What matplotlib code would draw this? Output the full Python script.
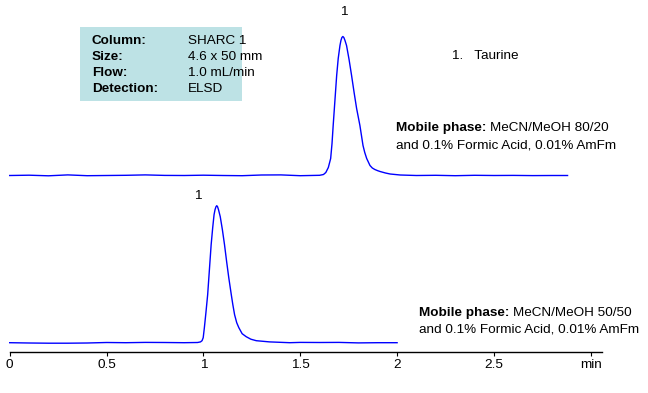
import numpy as np
import matplotlib
matplotlib.use("Agg")
import matplotlib.pyplot as plt
from matplotlib.patches import Rectangle

plt.rcParams['font.family'] = ['Liberation Sans', 'DejaVu Sans']

# chromatogram 1: MeCN/MeOH 80/20 (time in min, signal)
t_top = [0, 0.1, 0.2, 0.3, 0.4, 0.5, 0.6, 0.7, 0.8, 0.9, 1.0, 1.1, 1.2, 1.3, 1.4, 1.5,
         1.55, 1.6, 1.62, 1.632, 1.645, 1.657, 1.664, 1.670, 1.679, 1.688, 1.696,
         1.705, 1.710, 1.715, 1.720, 1.725, 1.731, 1.739, 1.752, 1.765, 1.778,
         1.791, 1.800, 1.808, 1.816, 1.824, 1.833, 1.843, 1.860, 1.872, 1.885,
         1.900, 1.912, 1.940, 1.964, 2.016,
         2.1, 2.2, 2.3, 2.4, 2.5, 2.6, 2.7, 2.8, 2.88]
s_top = [0, 0.3, -0.3, 0.6, -0.2, 0, 0.2, 0.6, 0.1, 0, 0.3, 0, -0.2, 0.5, 0.6, -0.2,
         0, 0.2, 1, 3, 8, 17, 32, 50, 75, 100, 117,
         130, 135, 138, 139, 138, 135, 130, 116, 100, 83,
         67, 58, 50, 40, 30, 23, 17, 10, 7.5, 6,
         4.8, 4, 2.5, 1.5, 0.5,
         0, 0.2, -0.2, 0.2, 0, 0.1, -0.1, 0, 0]

# chromatogram 2: MeCN/MeOH 50/50
t_bot = [0, 0.1, 0.2, 0.3, 0.4, 0.5, 0.6, 0.7, 0.8, 0.9, 0.97, 0.985, 0.993,
         0.999, 1.005, 1.013, 1.022, 1.031, 1.040, 1.048, 1.055, 1.060, 1.065,
         1.069, 1.073, 1.078, 1.087, 1.098, 1.109, 1.120, 1.131, 1.144, 1.152,
         1.161, 1.172, 1.183, 1.200, 1.221, 1.245, 1.273, 1.342, 1.446,
         1.5, 1.6, 1.7, 1.8, 1.9, 2.0]
s_bot = [0, -0.3, -0.5, -0.5, -0.3, 0.2, 0, 0.3, 0.2, 0, 0.2, 0.8, 2,
         5, 15, 30, 48, 73, 98, 115, 128, 133, 136,
         137, 136, 133, 126, 113, 98, 81, 65, 48, 38,
         28, 20, 15, 9, 6, 3.5, 2, 0.8, 0,
         0.3, 0.2, 0.3, -0.2, 0, 0]

ticks = [0, 0.5, 1, 1.5, 2, 2.5, 3]
tick_labels = ['0', '0.5', '1', '1.5', '2', '2.5', 'min']

info_keys = ['Column:', 'Size:', 'Flow:', 'Detection:']
info_vals = ['SHARC 1', '4.6 x 50 mm', '1.0 mL/min', 'ELSD']

W, H = 648, 393
FS = 9.7
fig = plt.figure(figsize=(W / 100, H / 100), dpi=100)

def px(x, y):
    return x / W, 1 - y / H

# axes: x=0 at 9.7 px, 193.7 px per min; bottom spine at y=352 px
ax = fig.add_axes([0, (H - 352) / H, 1, 352 / H])
x0, scale = 9.7, 193.7
ax.set_xlim(-x0 / scale, (W - x0) / scale)
ax.set_ylim(0, 352)

off_bot, off_top = 9.3, 176.5
ax.plot(t_top, np.array(s_top) + off_top, color='#0000ff', lw=1.0)
ax.plot(t_bot, np.array(s_bot) + off_bot, color='#0000ff', lw=1.0)

for s in ['top', 'left', 'right']:
    ax.spines[s].set_visible(False)
ax.spines['bottom'].set_bounds(0, 3.056)
ax.spines['bottom'].set_linewidth(1.0)
ax.set_yticks([])
ax.set_xticks(ticks)
ax.set_xticklabels(tick_labels, fontsize=FS)
ax.tick_params(axis='x', length=3, width=0.8, pad=2)

# peak labels
fig.text(*px(344, 12), '1', fontsize=FS, ha='center', va='center')
fig.text(*px(198, 196), '1', fontsize=FS, ha='center', va='center')

# info box
bx0, by0 = px(80, 101)
bw, bh = 162 / W, 74 / H
fig.patches.append(Rectangle((bx0, by0), bw, bh, transform=fig.transFigure,
                             facecolor='#bde2e5', edgecolor='none'))
for i, (k, v) in enumerate(zip(info_keys, info_vals)):
    y = 40.5 + 16 * i
    fig.text(*px(92, y), k, fontsize=FS, fontweight='bold', va='center')
    fig.text(*px(188, y), v, fontsize=FS, va='center')

fig.text(*px(452, 56), '1.   Taurine', fontsize=FS, va='center')

# mobile phase notes
for (x, y, ratio) in [(396, 128, '80/20'), (419, 313, '50/50')]:
    t1 = fig.text(*px(x, y), 'Mobile phase: ', fontsize=FS, fontweight='bold', va='center')
    fig.canvas.draw()
    bb = t1.get_window_extent()
    fig.text(bb.x1 / W, 1 - y / H, 'MeCN/MeOH ' + ratio, fontsize=FS, va='center')
    fig.text(*px(x, y + 17), 'and 0.1% Formic Acid, 0.01% AmFm', fontsize=FS, va='center')

fig.savefig('out.png', dpi=100)
